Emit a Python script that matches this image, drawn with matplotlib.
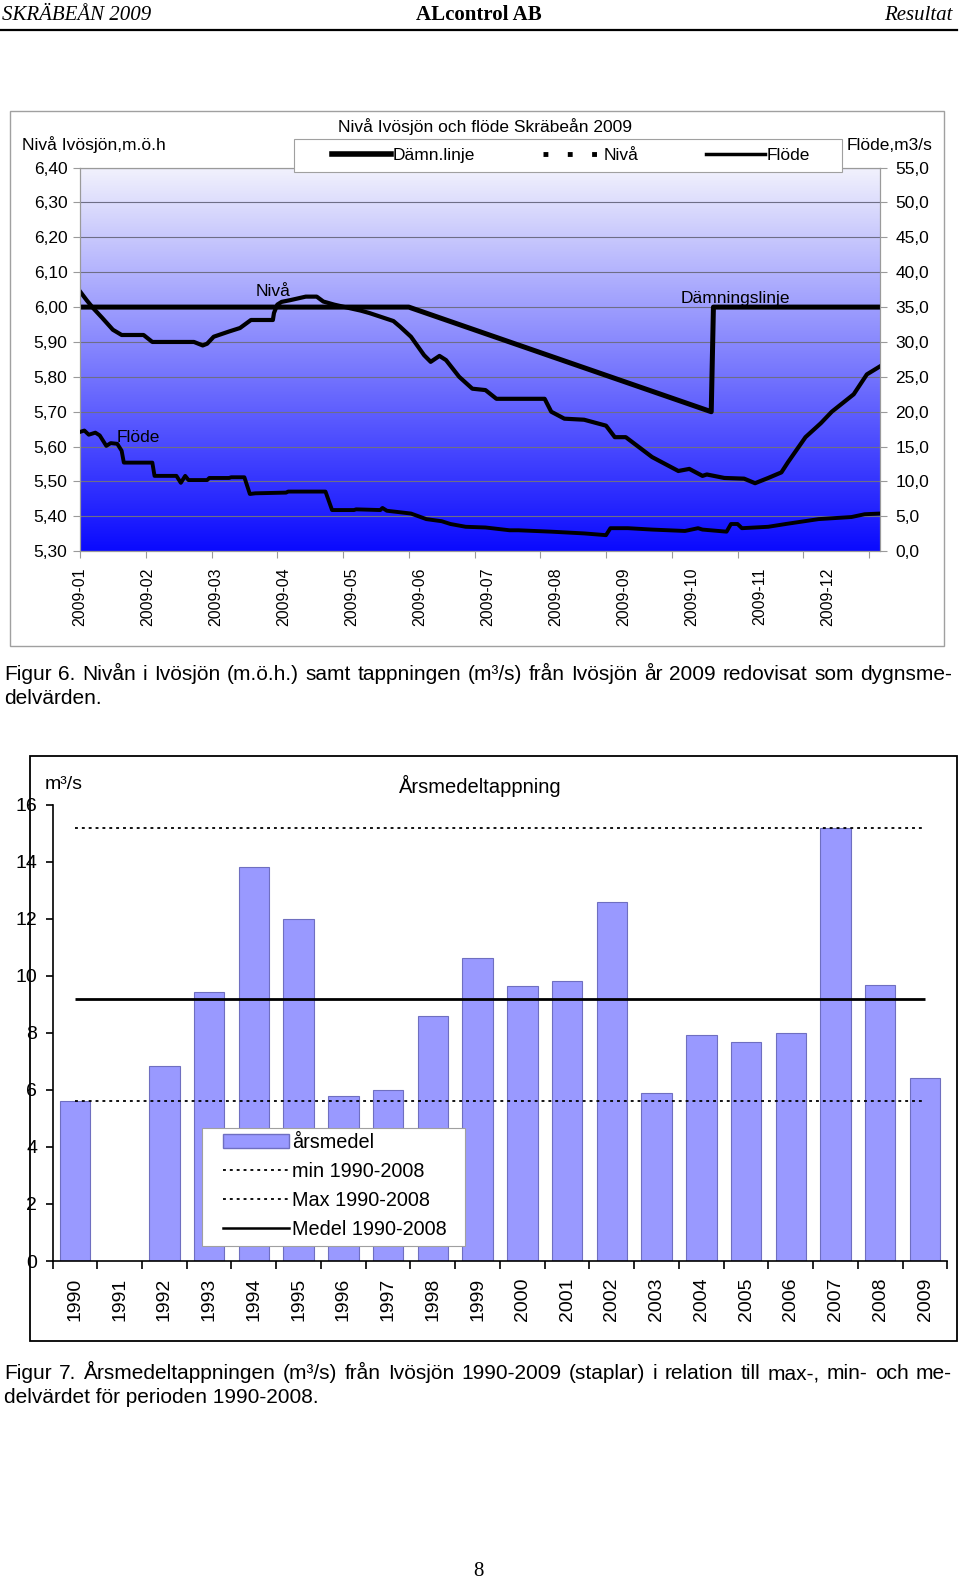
import numpy as np
import matplotlib
matplotlib.use("Agg")
import matplotlib.pyplot as plt
from matplotlib.lines import Line2D
from matplotlib.patches import Patch, Rectangle

plt.rcParams["font.family"] = ["Liberation Sans", "DejaVu Sans"]

# --- Figur 6: nivå Ivösjön och flöde Skräbeån 2009 (dag från 1 jan) ---
damn_day = [0, 150, 288, 289, 365]
damn_level = [6.00, 6.00, 5.70, 6.00, 6.00]

niva_day = [0, 3, 6, 10, 15, 19, 29, 33, 52, 56, 58, 61, 68, 73, 78, 88, 88.5,
            90, 92, 96, 103, 108, 111, 116, 123, 128, 132, 143, 146, 151, 157,
            160, 164, 167, 173, 179, 185, 190, 212, 215, 221, 230, 240, 244,
            249, 261, 273, 278, 284, 286, 294, 303, 308, 314, 320, 323, 331,
            338, 343, 353, 359, 365]
niva_level = [6.045, 6.02, 5.997, 5.97, 5.935, 5.92, 5.92, 5.90, 5.90, 5.89,
              5.895, 5.915, 5.93, 5.94, 5.963, 5.963, 5.983, 6.007, 6.015,
              6.02, 6.03, 6.03, 6.016, 6.007, 5.997, 5.99, 5.983, 5.96, 5.944,
              5.915, 5.862, 5.843, 5.86, 5.848, 5.80, 5.766, 5.762, 5.737,
              5.737, 5.70, 5.68, 5.677, 5.66, 5.627, 5.627, 5.57, 5.53, 5.536,
              5.516, 5.52, 5.51, 5.508, 5.495, 5.51, 5.526, 5.555, 5.627,
              5.667, 5.70, 5.75, 5.807, 5.83]

flode_day = [0, 2, 4, 7, 9, 12, 14, 17, 19, 20, 33, 34, 44, 46, 48, 49.5, 58,
             59, 68, 69, 75, 77.5, 80, 94, 95, 112, 115, 125, 126, 137, 138,
             140, 151, 158, 165, 169, 176, 185, 196, 200, 215, 230, 240, 242,
             250, 261, 276, 282, 284, 295, 297, 300, 302, 314, 322, 337, 352,
             358, 365]
flode_q = [17.1, 17.3, 16.7, 17.0, 16.6, 15.1, 15.5, 15.4, 14.4, 12.7, 12.7,
           10.8, 10.8, 9.8, 10.8, 10.2, 10.2, 10.5, 10.5, 10.6, 10.6, 8.2, 8.3,
           8.4, 8.55, 8.55, 5.9, 5.9, 6.0, 5.9, 6.2, 5.8, 5.4, 4.6, 4.3, 3.9,
           3.5, 3.4, 3.0, 3.0, 2.8, 2.55, 2.3, 3.3, 3.3, 3.1, 2.9, 3.3, 3.1,
           2.8, 3.9, 3.9, 3.3, 3.5, 3.9, 4.6, 4.9, 5.3, 5.4]

month_labels = ["2009-01", "2009-02", "2009-03", "2009-04", "2009-05",
                "2009-06", "2009-07", "2009-08", "2009-09", "2009-10",
                "2009-11", "2009-12"]
level_ticks = [5.30, 5.40, 5.50, 5.60, 5.70, 5.80, 5.90, 6.00, 6.10, 6.20,
               6.30, 6.40]
flow_ticks = [0, 5, 10, 15, 20, 25, 30, 35, 40, 45, 50, 55]

# --- Figur 7: årsmedeltappning 1990-2009 ---
years = ["1990", "1991", "1992", "1993", "1994", "1995", "1996", "1997",
         "1998", "1999", "2000", "2001", "2002", "2003", "2004", "2005",
         "2006", "2007", "2008", "2009"]
arsmedel = [5.62, np.nan, 6.83, 9.42, 13.8, 12.0, 5.78, 6.0, 8.6, 10.63, 9.63,
            9.8, 12.6, 5.9, 7.94, 7.67, 8.0, 15.17, 9.69, 6.4]

W, H = 960, 1583
fig = plt.figure(figsize=(W / 100, H / 100), dpi=100)


def box(x0, y0, x1, y1):
    return [x0 / W, 1 - y1 / H, (x1 - x0) / W, (y1 - y0) / H]


def figpt(x, y):
    return (x / W, 1 - y / H)


def legend_frame(ax, x0, y0, x1, y1):
    # vit ruta bakom en ramlös legend, i sidpixlar
    ax.add_patch(Rectangle(figpt(x0, y1), (x1 - x0) / W, (y1 - y0) / H,
                           transform=fig.transFigure, facecolor="white",
                           edgecolor="#a0a0a0", lw=0.8, zorder=4,
                           clip_on=False))


grey = "#9a9a9a"

# ---------- Figur 6 ----------
ax1 = fig.add_axes(box(80, 167.6, 880, 551.2))
ax1.set_xlim(0, 365)
ax1.set_ylim(5.30, 6.40)
top = np.array([0.95, 0.95, 0.99])
bot = np.array([0.04, 0.04, 1.0])
t = np.linspace(0, 1, 256)[:, None, None]
grad = top * (1 - t) + bot * t
ax1.imshow(grad, extent=[0, 365, 5.30, 6.40], aspect="auto", origin="upper",
           zorder=0)
ax1.plot(damn_day, damn_level, color="black", lw=3.6, zorder=3)
ax1.plot(niva_day, niva_level, color="black", lw=3.0, zorder=3)
ax1.set_yticks(level_ticks)
ax1.set_yticklabels([f"{v:.2f}".replace(".", ",") for v in level_ticks],
                    fontsize=12.5)
ax1.grid(axis="y", color="#6e6e86", lw=0.8)
ax1.xaxis.remove_overlapping_locs = False
ax1.set_xticks(np.arange(0, 361, 30))
ax1.set_xticklabels([])
ax1.set_xticks(np.arange(0, 342, 31), minor=True)
ax1.set_xticklabels(month_labels, minor=True, rotation=90, fontsize=11.5)
ax1.tick_params(axis="x", which="major", length=5, color=grey)
ax1.tick_params(axis="x", which="minor", length=0, pad=12)
ax1.tick_params(axis="y", length=5, color=grey, pad=4)
ax1.text(88, 6.045, "Nivå", fontsize=12.5, ha="center", va="center")
ax1.text(26.5, 5.625, "Flöde", fontsize=12.5, ha="center", va="center")
ax1.text(299, 6.025, "Dämningslinje", fontsize=12.5, ha="center", va="center")

ax2 = ax1.twinx()
ax2.set_ylim(0, 55)
ax2.plot(flode_day, flode_q, color="black", lw=2.8, zorder=3)
ax2.set_yticks(flow_ticks)
ax2.set_yticklabels([f"{v:.1f}".replace(".", ",") for v in flow_ticks],
                    fontsize=12.5)
ax2.tick_params(axis="y", length=5, color=grey, pad=6)
for a in (ax1, ax2):
    for s in a.spines.values():
        s.set_color(grey)
        s.set_linewidth(0.8)

legend_frame(ax2, 294, 139, 842, 172)
h1 = [Line2D([], [], color="black", lw=4),
      Line2D([], [], color="black", lw=3.5, ls=(0, (1, 4))),
      Line2D([], [], color="black", lw=2.5)]
leg1 = ax2.legend(h1, ["Dämn.linje", "Nivå", "Flöde"], ncol=3, loc="center",
                  bbox_to_anchor=figpt(571, 155.5),
                  bbox_transform=fig.transFigure, fontsize=12.5,
                  handlelength=3.4, handletextpad=0.1, columnspacing=3.9,
                  frameon=False)
leg1.set_zorder(5)

# ---------- Figur 7 ----------
ax3 = fig.add_axes(box(52.5, 804.6, 947.4, 1261))
x = np.arange(len(years))
ax3.bar(x, arsmedel, width=0.68, color="#9999ff", edgecolor="#6f6fc0",
        lw=0.8, zorder=2)
ref = np.array(arsmedel[:19])
mn, mx, me = np.nanmin(ref), np.nanmax(ref), np.nanmean(ref)
dots = (0, (1.6, 2.2))
ax3.hlines([mn, mx], 0, len(years) - 1, colors="black", lw=1.3,
           linestyles=[dots], zorder=3)
ax3.hlines(me, 0, len(years) - 1, colors="black", lw=2, zorder=3)
ax3.set_xlim(-0.5, len(years) - 0.5)
ax3.set_ylim(0, 16)
ax3.set_yticks(np.arange(0, 17, 2))
ax3.tick_params(axis="y", labelsize=14, length=5, width=1.2, pad=6)
ax3.set_xticks(np.arange(-0.5, len(years), 1))
ax3.set_xticklabels([])
ax3.set_xticks(x, minor=True)
ax3.set_xticklabels(years, minor=True, rotation=90, fontsize=14)
ax3.tick_params(axis="x", which="major", length=6, width=1.2)
ax3.tick_params(axis="x", which="minor", length=0, pad=12)
ax3.spines["top"].set_visible(False)
ax3.spines["right"].set_visible(False)
ax3.spines["left"].set_linewidth(1.2)
ax3.spines["bottom"].set_linewidth(1.2)

legend_frame(ax3, 202, 1128, 465, 1246)
h3 = [Patch(facecolor="#9999ff", edgecolor="#6f6fc0"),
      Line2D([], [], color="black", lw=1.3, ls=dots),
      Line2D([], [], color="black", lw=1.3, ls=dots),
      Line2D([], [], color="black", lw=1.8)]
leg3 = ax3.legend(h3, ["årsmedel", "min 1990-2008", "Max 1990-2008",
                       "Medel 1990-2008"], loc="center",
                  bbox_to_anchor=figpt(335, 1186),
                  bbox_transform=fig.transFigure, fontsize=14.3,
                  handlelength=3.3, handletextpad=0.15, labelspacing=0.5,
                  frameon=False)
leg3.set_zorder(5)

# ---------- sidtext ----------
over = fig.add_axes([0, 0, 1, 1], zorder=10)
over.set_xlim(0, W)
over.set_ylim(H, 0)
over.axis("off")

serif = ["Liberation Serif", "DejaVu Serif"]
over.text(2, 15, "SKRÄBEÅN 2009", family=serif, style="italic", fontsize=15,
          va="center")
over.text(479, 15, "ALcontrol AB", family=serif, weight="bold", fontsize=15,
          ha="center", va="center")
over.text(952, 15, "Resultat", family=serif, style="italic", fontsize=15,
          ha="right", va="center")
over.plot([0, 957], [30, 30], color="black", lw=1.6)

over.add_patch(Rectangle((10, 111), 934, 535, fill=False, ec="#a0a0a0", lw=1))
over.text(485, 127, "Nivå Ivösjön och flöde Skräbeån 2009", fontsize=12.5,
          ha="center", va="center")
over.text(22, 145, "Nivå Ivösjön,m.ö.h", fontsize=12.5, va="center")
over.text(932, 145, "Flöde,m3/s", fontsize=12.5, ha="right", va="center")

over.add_patch(Rectangle((30, 756), 927, 585, fill=False, ec="black", lw=1.3))
over.text(480, 786, "Årsmedeltappning", fontsize=14.5, ha="center",
          va="center")
over.text(45, 784, "m³/s", fontsize=14, va="center")

renderer = fig.canvas.get_renderer()


def justify(line, x0, x1, y, size):
    words = line.split(" ")
    ts = [over.text(0, y, w, fontsize=size, va="baseline") for w in words]
    ws = [tx.get_window_extent(renderer).width for tx in ts]
    gap = (x1 - x0 - sum(ws)) / (len(words) - 1)
    pos = x0
    for tx, w in zip(ts, ws):
        tx.set_x(pos)
        pos += w + gap


justify("Figur 6. Nivån i Ivösjön (m.ö.h.) samt tappningen (m³/s) från "
        "Ivösjön år 2009 redovisat som dygnsme-", 4, 952, 680, 15)
over.text(4, 704, "delvärden.", fontsize=15, va="baseline")
justify("Figur 7. Årsmedeltappningen (m³/s) från Ivösjön 1990-2009 (staplar) "
        "i relation till max-, min- och me-", 4, 952, 1379, 15)
over.text(4, 1403, "delvärdet för perioden 1990-2008.", fontsize=15,
          va="baseline")

over.text(478, 1572, "8", family=serif, fontsize=15, ha="center", va="center")

fig.savefig("out.png", dpi=100)
